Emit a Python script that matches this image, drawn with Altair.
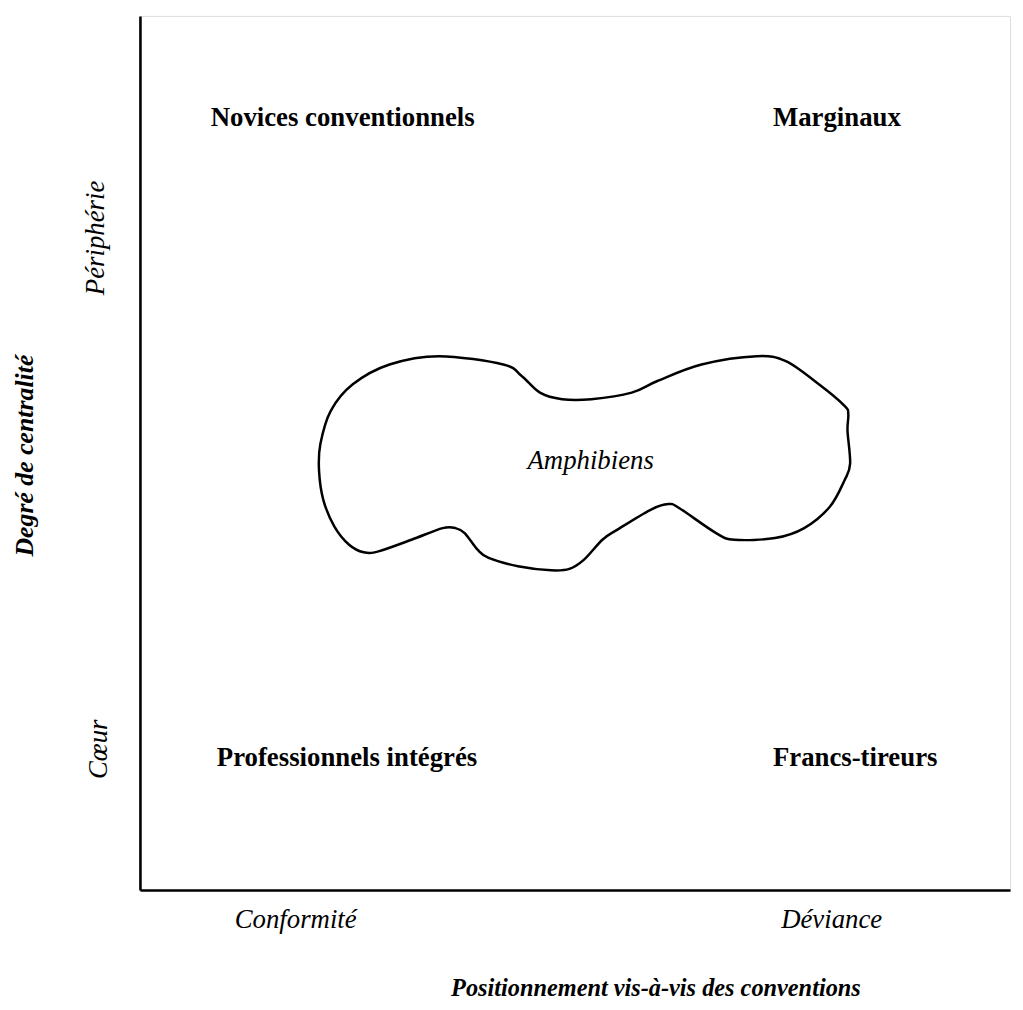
import altair as alt
import pandas as pd

# Blob outline ("Amphibiens" zone), in chart units (0-100 on each axis)
blob_x = [34.37, 41.76, 43.87, 45.97, 48.51, 51.88, 56.52, 59.47, 64.54, 70.87,
          74.23, 78.03, 80.98, 81.41, 81.32, 81.62, 80.98, 79.29, 76.34, 72.98,
          68.32, 66.22, 62.01, 60.74, 58.63, 54.83, 53.15, 51.04, 49.35, 47.24,
          43.44, 40.07, 38.80, 37.32, 36.27, 34.79, 31.21, 27.41, 25.72, 24.04,
          22.35, 21.08, 20.58, 20.74, 21.93, 24.46, 28.68]
blob_y = [61.07, 60.12, 58.80, 56.90, 56.15, 56.15, 56.90, 58.23, 60.12, 61.07,
          60.50, 57.85, 55.39, 54.45, 52.55, 48.77, 46.88, 43.85, 41.40, 40.26,
          40.07, 40.83, 43.67, 44.15, 43.47, 41.20, 40.07, 37.80, 36.74, 36.58,
          37.04, 37.99, 38.93, 40.83, 41.40, 41.40, 40.07, 38.74, 38.63, 39.50,
          41.58, 44.61, 48.01, 51.04, 54.82, 57.85, 60.12]

# Quadrant labels
quad_labels = ["Novices conventionnels", "Marginaux", "Professionnels intégrés", "Francs-tireurs"]
quad_x = [23.3, 80.1, 23.8, 82.2]
quad_y = [88.3, 88.3, 15.1, 15.1]

# Centre label
centre_label = ["Amphibiens"]
centre_x = [51.8]
centre_y = [49.1]

# Axis end labels
xend_labels = ["Conformité", "Déviance"]
xend_x = [17.9, 79.5]
xend_y = [-3.4, -3.4]

yend_labels = ["Périphérie", "Cœur"]
yend_x = [-5.0, -4.7]
yend_y = [74.6, 16.1]

# Axis titles
xtitle = ["Positionnement vis-à-vis des conventions"]
xtitle_x = [59.3]
xtitle_y = [-11.35]
ytitle = ["Degré de centralité"]
ytitle_x = [-13.2]
ytitle_y = [49.7]

FONT = "Liberation Serif"
FS = 27

xs = alt.Scale(domain=[0, 100], nice=False, zero=False)
ys = alt.Scale(domain=[0, 100], nice=False, zero=False)

blob_df = pd.DataFrame({"x": blob_x, "y": blob_y, "i": list(range(len(blob_x)))})

axes = alt.Chart(blob_df).mark_point(opacity=0).encode(
    x=alt.X("x:Q", scale=xs, axis=alt.Axis(title=None, labels=False, ticks=False, grid=False,
                                           domainColor="black", domainWidth=2.6)),
    y=alt.Y("y:Q", scale=ys, axis=alt.Axis(title=None, labels=False, ticks=False, grid=False,
                                           domainColor="black", domainWidth=2.6)),
)

blob = alt.Chart(blob_df).mark_line(
    interpolate="cardinal-closed", color="black", strokeWidth=2.5
).encode(x=alt.X("x:Q", scale=xs), y=alt.Y("y:Q", scale=ys), order="i:Q")


def text_layer(labels, xv, yv, size=FS, **kw):
    df = pd.DataFrame({"t": labels, "x": xv, "y": yv})
    return alt.Chart(df).mark_text(font=FONT, fontSize=size, color="black",
                                   align="center", baseline="middle", **kw).encode(
        x=alt.X("x:Q", scale=xs), y=alt.Y("y:Q", scale=ys), text="t:N")


quad = text_layer(quad_labels, quad_x, quad_y, fontWeight="bold")
centre = text_layer(centre_label, centre_x, centre_y, fontStyle="italic")
xend = text_layer(xend_labels, xend_x, xend_y, fontStyle="italic")
yend = text_layer(yend_labels, yend_x, yend_y, fontStyle="italic", angle=270)
xt = text_layer(xtitle, xtitle_x, xtitle_y, size=24.5, fontStyle="italic", fontWeight="bold")
yt = text_layer(ytitle, ytitle_x, ytitle_y, size=26, fontStyle="italic", fontWeight="bold", angle=270)

chart = alt.layer(axes, blob, quad, centre, xend, yend, xt, yt).properties(
    width=877, height=881,
    autosize=alt.AutoSizeParams(type="none"),
    padding={"left": 133, "top": 4, "right": 5, "bottom": 117},
).configure_view(stroke=None).configure(background="white")

chart.save("out.html", embed_options={"renderer": "svg", "actions": False})
